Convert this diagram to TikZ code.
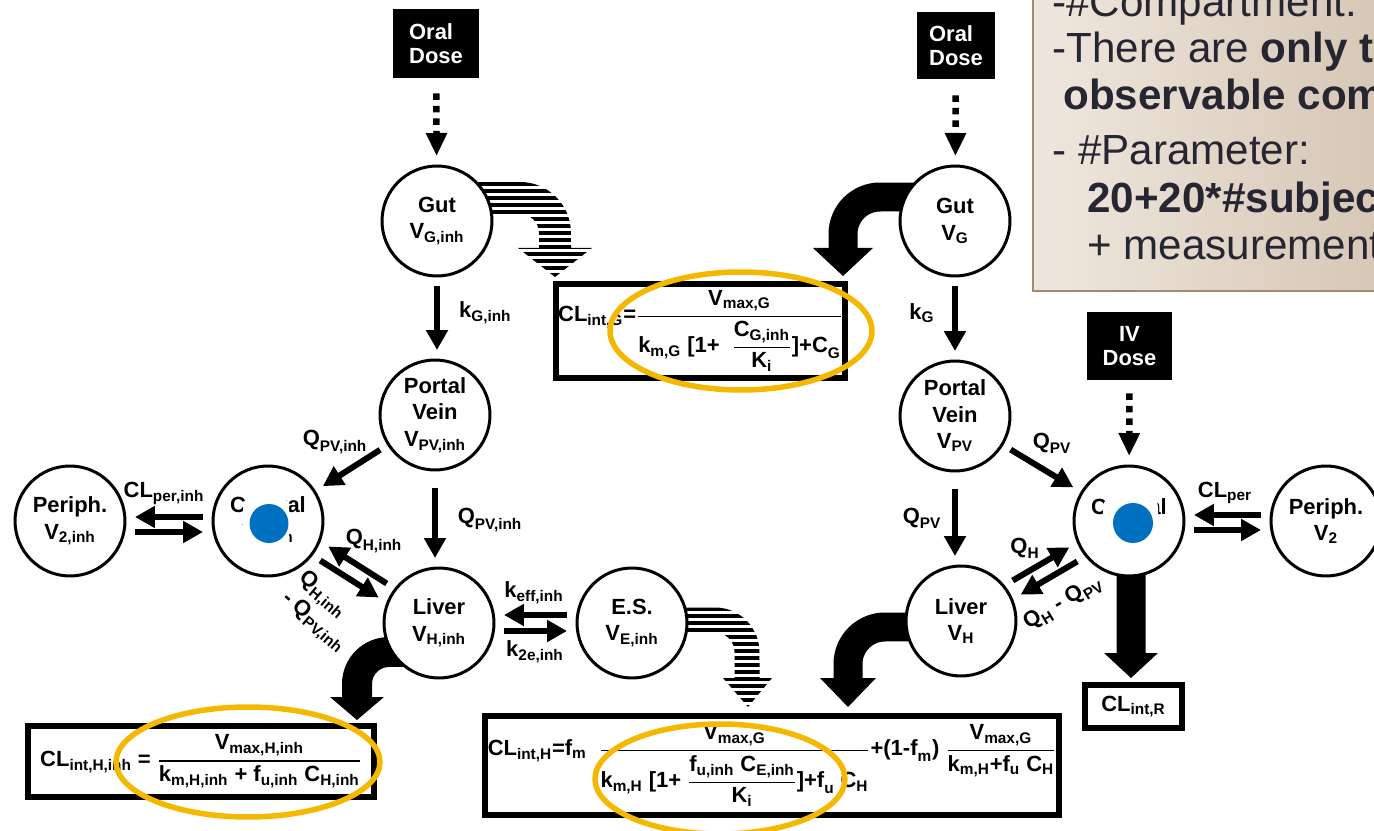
\documentclass[tikz,border=0pt]{standalone}
\usepackage{amsmath}
\usepackage{fontspec}
\setmainfont{Liberation Sans}
\usetikzlibrary{arrows.meta}

\pgfdeclarelayer{background}
\pgfsetlayers{background,main}

\definecolor{ovalgold}{HTML}{F5B800}
\definecolor{dotblue}{HTML}{0070C0}
\definecolor{noteleft}{HTML}{EFE7DE}
\definecolor{noteright}{HTML}{D5C5B3}
\definecolor{noteline}{HTML}{A38C6C}
\definecolor{notetext}{HTML}{262633}

\newcommand{\mtxt}[1]{\text{#1}}
\newcommand{\eqfrac}[2]{\genfrac{}{}{0.8pt}{0}{#1}{#2}}
\newcommand{\vsub}[2]{$\mtxt{#1}_{\mtxt{#2}}$}

\begin{document}
\begin{tikzpicture}[
  x=0.02cm, y=0.02cm,
  lbl/.style={font=\fontsize{12.5}{15}\selectfont\bfseries, inner sep=1pt},
  comp/.style={lbl, circle, draw, line width=0.06cm, fill=white,
    minimum size=2.2cm, inner sep=0pt, outer sep=0.2cm, align=center},
  dosebox/.style={lbl, font=\fontsize{12.5}{13.5}\selectfont\bfseries,
    fill=black, text=white, inner sep=0pt},
  eqbox/.style={lbl, draw, line width=0.12cm, fill=white, inner sep=0pt},
  flow/.style={line width=0.12cm, -{Triangle[length=0.4cm, width=0.42cm]}},
  dotflow/.style={line width=0.13cm, dash pattern=on 0.13cm off 0.12cm,
    -{Triangle[length=0.46cm, width=0.4cm]}},
  bigshaft/.style={line width=0.58cm},
  goldoval/.style={draw=ovalgold, line width=0.11cm}
]
\useasboundingbox (0,0) rectangle (1374,-831);
\clip (0,0) rectangle (1374,-831);

% ----- dose boxes -----
\node[dosebox, minimum width=1.72cm, minimum height=1.38cm, align=left] (oralL) at (436,-43.5) {Oral\\Dose};
\node[dosebox, minimum width=1.56cm, minimum height=1.34cm, align=left] (oralR) at (956,-45.5) {Oral\\Dose};
\node[dosebox, minimum width=1.7cm, minimum height=1.36cm, align=center] (ivD) at (1129.5,-346) {IV\\Dose};

% ----- compartments, inhibitor side (left) -----
\node[comp] (gutL) at (437,-221) {Gut\\\vsub{V}{G,inh}};
\node[comp] (pvL)  at (435,-415) {Portal\\Vein\\\vsub{V}{PV,inh}};
\node[comp] (cenL) at (268,-521) {Central\\\vsub{V}{1,inh}};
\node[comp] (perL) at (70,-521)  {Periph.\\\vsub{V}{2,inh}};
\node[comp] (livL) at (439,-623) {Liver\\\vsub{V}{H,inh}};
\node[comp] (es)   at (632,-623) {E.S.\\\vsub{V}{E,inh}};

% ----- compartments, substrate side (right) -----
\node[comp] (gutR) at (955,-221)  {Gut\\\vsub{V}{G}};
\node[comp] (pvR)  at (955,-416)  {Portal\\Vein\\\vsub{V}{PV}};
\node[comp] (livR) at (961,-621)  {Liver\\\vsub{V}{H}};
\node[comp] (cenR) at (1129,-521) {Central\\\vsub{V}{1}};
\node[comp] (perR) at (1326,-521) {Periph.\\\vsub{V}{2}};

% ----- clearance boxes -----
\node[eqbox, minimum width=5.78cm, minimum height=1.88cm] (eqG) at (700.5,-331)
  {$\mtxt{CL}_{\mtxt{int,G}}\mtxt{=}\eqfrac{\mtxt{V}_{\mtxt{max,G}}}{\mtxt{k}_{\mtxt{m,G}}\mtxt{ [1+ }\;\eqfrac{\mtxt{C}_{\mtxt{G,inh}}}{\mtxt{K}_{\mtxt{i}}}\mtxt{]+C}_{\mtxt{G}}}$};
\node[eqbox, minimum width=6.92cm, minimum height=1.42cm] (eqHL) at (201,-761.5)
  {$\mtxt{CL}_{\mtxt{int,H,inh}}\mtxt{ = }\eqfrac{\mtxt{V}_{\mtxt{max,H,inh}}}{\mtxt{k}_{\mtxt{m,H,inh}}\mtxt{ + f}_{\mtxt{u,inh}}\mtxt{ C}_{\mtxt{H,inh}}}$};
\node[eqbox, minimum width=11.48cm, minimum height=1.98cm] (eqHR) at (772,-765.5)
  {$\mtxt{CL}_{\mtxt{int,H}}\mtxt{=f}_{\mtxt{m}}\;\;\eqfrac{\mtxt{V}_{\mtxt{max,G}}}{\mtxt{k}_{\mtxt{m,H}}\mtxt{ [1+ }\eqfrac{\mtxt{f}_{\mtxt{u,inh}}\mtxt{ C}_{\mtxt{E,inh}}}{\mtxt{K}_{\mtxt{i}}}\mtxt{]+f}_{\mtxt{u}}\mtxt{ C}_{\mtxt{H}}}\mtxt{+(1-f}_{\mtxt{m}}\mtxt{) }\eqfrac{\mtxt{V}_{\mtxt{max,G}}}{\mtxt{k}_{\mtxt{m,H}}\mtxt{+f}_{\mtxt{u}}\mtxt{ C}_{\mtxt{H}}}$};
\node[eqbox, minimum width=1.94cm, minimum height=0.86cm] (clR) at (1133.5,-706.5) {\vsub{CL}{int,R}};

% ----- dosing (dotted) -----
\draw[dotflow, shorten <=0.3cm] (oralL) -- (gutL);
\draw[dotflow, shorten <=0.32cm] (oralR) -- (gutR);
\draw[dotflow, shorten <=0.26cm] (ivD) -- (cenR);

% ----- flows, left -----
\draw[flow] (gutL.south) -- (gutL.south |- pvL.north);
\draw[flow, shorten <=0.16cm] (pvL.south) -- (pvL.south |- livL.north);
\draw[flow] (pvL) -- (cenL);
\draw[flow] ([yshift=0.08cm]cenL.west) -- ([yshift=0.08cm]perL.east);
\draw[flow] ([yshift=-0.22cm]perL.east) -- ([yshift=-0.22cm]cenL.west);
\draw[flow] ([shift={(4,7)}]livL.150) -- ([shift={(4,7)}]cenL.330);
\draw[flow] ([shift={(-4,-7)}]cenL.330) -- ([shift={(-4,-7)}]livL.150);
\draw[flow] ([yshift=0.16cm]es.west) -- ([yshift=0.16cm]livL.east);
\draw[flow] ([yshift=-0.16cm]livL.east) -- ([yshift=-0.16cm]es.west);

% ----- flows, right -----
\draw[flow] (gutR.south) -- (gutR.south |- pvR.north);
\draw[flow, shorten <=0.16cm] (pvR.south) -- (pvR.south |- livR.north);
\draw[flow] (pvR) -- (cenR);
\draw[flow] ([yshift=0.12cm]perR.west) -- ([yshift=0.12cm]cenR.east);
\draw[flow] ([yshift=-0.18cm]cenR.east) -- ([yshift=-0.18cm]perR.west);
\draw[flow] ([shift={(-4,7)}]livR.31) -- ([shift={(-4,7)}]cenR.211);
\draw[flow] ([shift={(4,-7)}]cenR.211) -- ([shift={(4,-7)}]livR.31);

% ----- rate labels -----
\node[lbl, anchor=west] (lbkGL) at (457,-313) {\vsub{k}{G,inh}};
\node[lbl] (lbkGR)   at (922,-313)  {\vsub{k}{G}};
\node[lbl] (lbQpvL1) at (335,-442)  {\vsub{Q}{PV,inh}};
\node[lbl] (lbQpvL2) at (490,-520)  {\vsub{Q}{PV,inh}};
\node[lbl] (lbQpvR1) at (1052,-443) {\vsub{Q}{PV}};
\node[lbl] (lbQpvR2) at (922,-518)  {\vsub{Q}{PV}};
\node[lbl] (lbCLperL) at (164,-493) {\vsub{CL}{per,inh}};
\node[lbl] (lbCLperR) at (1225,-493) {\vsub{CL}{per}};
\node[lbl] (lbQhL)   at (374,-541)  {\vsub{Q}{H,inh}};
\node[lbl, rotate=-40, align=left, inner sep=0pt] (lbQhpvL) at (322,-612) {\vsub{Q}{H,inh}\\- \vsub{Q}{PV,inh}};
\node[lbl] (lbkeff)  at (534,-593)  {\vsub{k}{eff,inh}};
\node[lbl] (lbk2e)   at (535,-652)  {\vsub{k}{2e,inh}};
\node[lbl] (lbQhR)   at (1025,-548) {\vsub{Q}{H}};
\node[lbl, rotate=31, inner sep=0pt] (lbQhpvR) at (1063,-603) {\vsub{Q}{H} - \vsub{Q}{PV}};

% ----- metabolism arrows behind the compartments -----
\begin{pgfonlayer}{background}
  % solid (substrate)
  \draw[bigshaft] ([yshift=0.48cm]gutR.center) -- (880,-197)
    arc[start angle=90, end angle=180, radius=0.74cm] -- (843,-250);
  \fill (813,-248) -- (873,-248) -- (843,-276) -- cycle;
  \draw[bigshaft] ([yshift=-0.12cm]livR.center) -- (885,-627)
    arc[start angle=90, end angle=180, radius=0.74cm] -- (848,-680);
  \fill (820,-678) -- (876,-678) -- (848,-707) -- cycle;
  \draw[line width=0.6cm] ([yshift=-0.58cm]livL.center) -- (389,-652)
    arc[start angle=90, end angle=180, radius=0.64cm] -- (357,-699);
  \fill (330,-697) -- (384,-697) -- (357,-720) -- cycle;
  \draw[bigshaft] ([xshift=0.04cm]cenR.center) -- (1131,-654);
  \fill (1104,-653) -- (1158,-653) -- (1131,-678) -- cycle;
  % hatched (inhibitor)
  \begin{scope}
    \clip (470,-182) -- (520,-182) arc[start angle=90, end angle=0, radius=1.02cm]
      -- (571,-248) -- (592,-248) -- (555,-277) -- (518,-248) -- (539,-248)
      -- (539,-233) arc[start angle=0, end angle=90, radius=0.38cm]
      -- (470,-214) -- cycle;
    \foreach \yy in {182,189,...,280} \fill (460,-\yy) rectangle (610,-\yy-3.6);
  \end{scope}
  \begin{scope}
    \clip (660,-607.5) -- (715,-607.5) arc[start angle=90, end angle=0, radius=0.89cm]
      -- (759.5,-678) -- (772,-678) -- (748,-707) -- (723,-678) -- (734.5,-678)
      -- (734.5,-652) arc[start angle=0, end angle=90, radius=0.39cm]
      -- (660,-632.5) -- cycle;
    \foreach \yy in {607,614,...,710} \fill (650,-\yy) rectangle (790,-\yy-3.6);
  \end{scope}
\end{pgfonlayer}

% ----- marker dots on the central compartments -----
\fill[white, rounded corners=0.2cm] (243,-497) rectangle (289,-548);
\fill[dotblue] (269,-523.5) circle[radius=0.39cm];
\fill[white, rounded corners=0.2cm] (1103,-497) rectangle (1158,-550);
\fill[dotblue] (1133,-523) circle[radius=0.4cm];

% ----- highlight ovals -----
\draw[goldoval] (741,-331) ellipse[x radius=2.62cm, y radius=1.18cm];
\draw[goldoval] (248,-762) ellipse[x radius=2.64cm, y radius=1.1cm];
\draw[goldoval] (720,-779) ellipse[x radius=2.5cm, y radius=1.1cm];

% ----- note box (top right) -----
\begin{scope}
  \clip (1031,0) rectangle (1374,-293);
  \shadedraw[left color=noteleft, right color=noteright, draw=noteline, line width=0.05cm]
    (1033,20) rectangle (1400,-291);
  \begin{scope}[every node/.style={anchor=base west, inner sep=0pt, text=notetext,
      font=\fontsize{24}{28}\selectfont}]
    \node (note1) at (1052,-17)  {-\#Compartment:};
    \node (note2) at (1052,-63)  {-There are \textbf{only t}};
    \node (note3) at (1063,-110) {\textbf{observable com}};
    \node (note4) at (1052,-165) {- \#Parameter:};
    \node (note5) at (1087,-213) {\textbf{20+20*\#subjec}};
    \node (note6) at (1087,-260) {+ measurement};
  \end{scope}
\end{scope}
\end{tikzpicture}
\end{document}
